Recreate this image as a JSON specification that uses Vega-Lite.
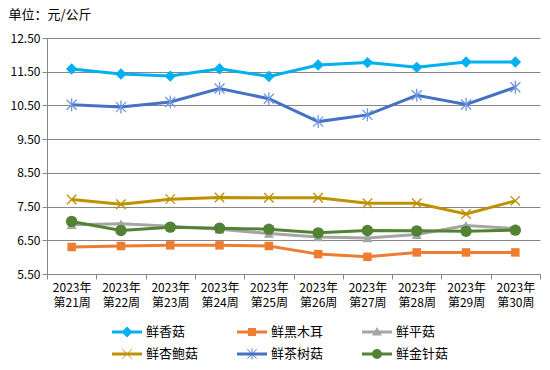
{
  "$schema": "https://vega.github.io/schema/vega-lite/v6.json",
  "width": 493,
  "height": 236,
  "autosize": "none",
  "padding": {"left": 47, "top": 38, "right": 10, "bottom": 96},
  "background": "white",
  "config": {
    "view": {"stroke": null},
    "font": "Noto Sans CJK SC",
    "legend": {
      "orient": "none",
      "legendX": 65,
      "legendY": 279,
      "columns": 3,
      "direction": "horizontal",
      "symbolSize": 900,
      "symbolOpacity": 1,
      "symbolStrokeWidth": 0,
      "labelFontSize": 13,
      "labelColor": "#000000",
      "labelOffset": 4,
      "columnPadding": 38,
      "rowPadding": 0,
      "padding": 0
    }
  },
  "data": {
    "values": [
      {"week": "2023年第21周", "series": "鲜香菇", "price": 11.58},
      {"week": "2023年第22周", "series": "鲜香菇", "price": 11.43},
      {"week": "2023年第23周", "series": "鲜香菇", "price": 11.37},
      {"week": "2023年第24周", "series": "鲜香菇", "price": 11.59},
      {"week": "2023年第25周", "series": "鲜香菇", "price": 11.36},
      {"week": "2023年第26周", "series": "鲜香菇", "price": 11.70},
      {"week": "2023年第27周", "series": "鲜香菇", "price": 11.77},
      {"week": "2023年第28周", "series": "鲜香菇", "price": 11.63},
      {"week": "2023年第29周", "series": "鲜香菇", "price": 11.79},
      {"week": "2023年第30周", "series": "鲜香菇", "price": 11.79},
      {"week": "2023年第21周", "series": "鲜黑木耳", "price": 6.30},
      {"week": "2023年第22周", "series": "鲜黑木耳", "price": 6.33},
      {"week": "2023年第23周", "series": "鲜黑木耳", "price": 6.35},
      {"week": "2023年第24周", "series": "鲜黑木耳", "price": 6.35},
      {"week": "2023年第25周", "series": "鲜黑木耳", "price": 6.33},
      {"week": "2023年第26周", "series": "鲜黑木耳", "price": 6.09},
      {"week": "2023年第27周", "series": "鲜黑木耳", "price": 6.01},
      {"week": "2023年第28周", "series": "鲜黑木耳", "price": 6.14},
      {"week": "2023年第29周", "series": "鲜黑木耳", "price": 6.14},
      {"week": "2023年第30周", "series": "鲜黑木耳", "price": 6.14},
      {"week": "2023年第21周", "series": "鲜平菇", "price": 6.96},
      {"week": "2023年第22周", "series": "鲜平菇", "price": 6.99},
      {"week": "2023年第23周", "series": "鲜平菇", "price": 6.92},
      {"week": "2023年第24周", "series": "鲜平菇", "price": 6.83},
      {"week": "2023年第25周", "series": "鲜平菇", "price": 6.70},
      {"week": "2023年第26周", "series": "鲜平菇", "price": 6.60},
      {"week": "2023年第27周", "series": "鲜平菇", "price": 6.57},
      {"week": "2023年第28周", "series": "鲜平菇", "price": 6.67},
      {"week": "2023年第29周", "series": "鲜平菇", "price": 6.94},
      {"week": "2023年第30周", "series": "鲜平菇", "price": 6.85},
      {"week": "2023年第21周", "series": "鲜杏鲍菇", "price": 7.71},
      {"week": "2023年第22周", "series": "鲜杏鲍菇", "price": 7.57},
      {"week": "2023年第23周", "series": "鲜杏鲍菇", "price": 7.72},
      {"week": "2023年第24周", "series": "鲜杏鲍菇", "price": 7.77},
      {"week": "2023年第25周", "series": "鲜杏鲍菇", "price": 7.76},
      {"week": "2023年第26周", "series": "鲜杏鲍菇", "price": 7.76},
      {"week": "2023年第27周", "series": "鲜杏鲍菇", "price": 7.60},
      {"week": "2023年第28周", "series": "鲜杏鲍菇", "price": 7.60},
      {"week": "2023年第29周", "series": "鲜杏鲍菇", "price": 7.28},
      {"week": "2023年第30周", "series": "鲜杏鲍菇", "price": 7.67},
      {"week": "2023年第21周", "series": "鲜茶树菇", "price": 10.52},
      {"week": "2023年第22周", "series": "鲜茶树菇", "price": 10.45},
      {"week": "2023年第23周", "series": "鲜茶树菇", "price": 10.60},
      {"week": "2023年第24周", "series": "鲜茶树菇", "price": 11.00},
      {"week": "2023年第25周", "series": "鲜茶树菇", "price": 10.70},
      {"week": "2023年第26周", "series": "鲜茶树菇", "price": 10.02},
      {"week": "2023年第27周", "series": "鲜茶树菇", "price": 10.22},
      {"week": "2023年第28周", "series": "鲜茶树菇", "price": 10.80},
      {"week": "2023年第29周", "series": "鲜茶树菇", "price": 10.53},
      {"week": "2023年第30周", "series": "鲜茶树菇", "price": 11.04},
      {"week": "2023年第21周", "series": "鲜金针菇", "price": 7.06},
      {"week": "2023年第22周", "series": "鲜金针菇", "price": 6.79},
      {"week": "2023年第23周", "series": "鲜金针菇", "price": 6.89},
      {"week": "2023年第24周", "series": "鲜金针菇", "price": 6.86},
      {"week": "2023年第25周", "series": "鲜金针菇", "price": 6.83},
      {"week": "2023年第26周", "series": "鲜金针菇", "price": 6.72},
      {"week": "2023年第27周", "series": "鲜金针菇", "price": 6.79},
      {"week": "2023年第28周", "series": "鲜金针菇", "price": 6.78},
      {"week": "2023年第29周", "series": "鲜金针菇", "price": 6.77},
      {"week": "2023年第30周", "series": "鲜金针菇", "price": 6.80}
    ]
  },
  "encoding": {
    "x": {
      "field": "week",
      "type": "ordinal",
      "bandPosition": 0.5,
      "scale": {"type": "band", "paddingInner": 0, "paddingOuter": 0},
      "axis": {
        "title": null,
        "tickBand": "extent",
        "grid": false,
        "domainColor": "#868686",
        "tickColor": "#868686",
        "tickSize": 5,
        "labelAngle": 0,
        "labelFontSize": 12,
        "labelColor": "#000000",
        "labelPadding": 3,
        "labelLineHeight": 15,
        "labelExpr": "[substring(datum.label, 0, 5), substring(datum.label, 5)]"
      }
    },
    "y": {
      "field": "price",
      "type": "quantitative",
      "scale": {"domain": [5.5, 12.5], "nice": false, "zero": false},
      "axis": {
        "values": [5.5, 6.5, 7.5, 8.5, 9.5, 10.5, 11.5, 12.5],
        "format": ".2f",
        "grid": true,
        "gridColor": "#868686",
        "domainColor": "#868686",
        "tickColor": "#868686",
        "tickSize": 5,
        "labelFontSize": 12,
        "labelColor": "#000000",
        "labelPadding": 2,
        "title": "单位：元/公斤",
        "titleAngle": 0,
        "titleX": -39,
        "titleY": -24,
        "titleAlign": "left",
        "titleBaseline": "middle",
        "titleFontSize": 13,
        "titleFontWeight": "normal",
        "titleColor": "#000000"
      }
    }
  },
  "layer": [
    {
      "mark": {"type": "point", "filled": true, "opacity": 0.001},
      "encoding": {
        "color": {
          "field": "series",
          "type": "nominal",
          "title": null,
          "scale": {
            "domain": ["鲜香菇", "鲜黑木耳", "鲜平菇", "鲜杏鲍菇", "鲜茶树菇", "鲜金针菇"],
            "range": ["#00B0F0", "#ED7D31", "#A5A5A5", "#BF9000", "#4472C4", "#548235"]
          },
          "legend": {"symbolOpacity": 1}
        },
        "shape": {
          "field": "series",
          "type": "nominal",
          "title": null,
          "scale": {
            "domain": ["鲜香菇", "鲜黑木耳", "鲜平菇", "鲜杏鲍菇", "鲜茶树菇", "鲜金针菇"],
            "range": [
              "M-1,-0.1H1V0.1H-1Z M0,-0.37L0.37,0L0,0.37L-0.37,0Z",
              "M-1,-0.1H1V0.1H-1Z M-0.27,-0.27H0.27V0.27H-0.27Z",
              "M-1,-0.1H1V0.1H-1Z M0,-0.33L0.33,0.23L-0.33,0.23Z",
              "M-1,-0.1H1V0.1H-1Z M-0.33,-0.3L-0.3,-0.33L0.33,0.3L0.3,0.33Z M0.3,-0.33L0.33,-0.3L-0.3,0.33L-0.33,0.3Z",
              "M-1,-0.1H1V0.1H-1Z M-0.33,-0.3L-0.3,-0.33L0.33,0.3L0.3,0.33Z M0.3,-0.33L0.33,-0.3L-0.3,0.33L-0.33,0.3Z M-0.03,-0.37H0.03V0.37H-0.03Z",
              "M-1,-0.1H1V0.1H-1Z M-0.33,0A0.33,0.33 0 1,1 0.33,0A0.33,0.33 0 1,1 -0.33,0Z"
            ]
          },
          "legend": {"symbolOpacity": 1}
        }
      }
    },
    {
      "mark": {"type": "line", "strokeWidth": 3},
      "encoding": {
        "stroke": {
          "field": "series",
          "type": "nominal",
          "scale": {
            "domain": ["鲜香菇", "鲜黑木耳", "鲜平菇", "鲜杏鲍菇", "鲜茶树菇", "鲜金针菇"],
            "range": ["#00B0F0", "#ED7D31", "#A5A5A5", "#BF9000", "#4472C4", "#548235"]
          },
          "legend": null
        }
      }
    },
    {
      "transform": [{"filter": {"field": "series", "oneOf": ["鲜香菇"]}}],
      "mark": {"type": "point", "shape": "diamond", "filled": true, "opacity": 1, "color": "#00B0F0", "size": 130}
    },
    {
      "transform": [{"filter": {"field": "series", "oneOf": ["鲜黑木耳"]}}],
      "mark": {"type": "point", "shape": "square", "filled": true, "opacity": 1, "color": "#ED7D31", "size": 72}
    },
    {
      "transform": [{"filter": {"field": "series", "oneOf": ["鲜平菇"]}}],
      "mark": {"type": "point", "shape": "triangle-up", "filled": true, "opacity": 1, "color": "#A5A5A5", "size": 100}
    },
    {
      "transform": [{"filter": {"field": "series", "oneOf": ["鲜杏鲍菇"]}}],
      "mark": {"type": "point", "shape": "M-1,-1L1,1M1,-1L-1,1", "filled": false, "opacity": 1, "color": "#BF9000", "strokeWidth": 1.3, "size": 90}
    },
    {
      "transform": [{"filter": {"field": "series", "oneOf": ["鲜茶树菇"]}}],
      "mark": {"type": "point", "shape": "M-1,-1L1,1M1,-1L-1,1M0,-1.3L0,1.3", "filled": false, "opacity": 1, "color": "#6F96E0", "strokeWidth": 1.3, "size": 100}
    },
    {
      "transform": [{"filter": {"field": "series", "oneOf": ["鲜金针菇"]}}],
      "mark": {"type": "point", "shape": "circle", "filled": true, "opacity": 1, "color": "#548235", "size": 130}
    }
  ]
}
